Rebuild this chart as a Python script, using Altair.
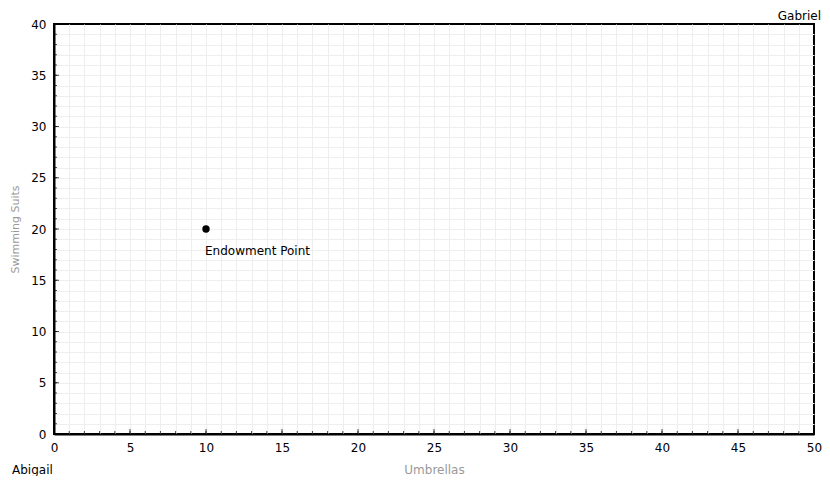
import altair as alt
import pandas as pd

# Data
x_grid = list(range(0, 51))
y_grid = list(range(0, 41))
x_major = list(range(0, 51, 5))
y_major = list(range(0, 41, 5))
point_x = [10]
point_y = [20]
point_label = ["Endowment Point"]
x_title = "Umbrellas"
y_title = "Swimming Suits"
corner_bottom_left = "Abigail"
corner_top_right = "Gabriel"

W, H = 760, 410
FONT = "DejaVu Sans"

xscale = alt.Scale(domain=[0, 50], nice=False, zero=False)
yscale = alt.Scale(domain=[0, 40], nice=False, zero=False)

label_expr = "datum.value % 5 == 0 ? datum.label : ''"

xaxis = alt.Axis(values=x_grid, grid=True, ticks=False, labelExpr=label_expr,
                 labelOverlap=False, labelFlush=False, labelPadding=8, titlePadding=11,
                 labelFont=FONT, labelFontSize=12, labelColor="#000",
                 titleFont=FONT, titleFontSize=12, titleColor="#999",
                 titleFontWeight="normal",
                 domainColor="#000", domainWidth=2,
                 gridColor="#eeeeee", gridWidth=1,
                 gridOpacity={"condition": {"test": "datum.value == 0 || datum.value == 50", "value": 0},
                              "value": 1})
yaxis = alt.Axis(values=y_grid, grid=True, ticks=False, labelExpr=label_expr,
                 labelOverlap=False, labelFlush=False, labelPadding=8, titlePadding=10,
                 labelFont=FONT, labelFontSize=12, labelColor="#000",
                 titleFont=FONT, titleFontSize=11, titleColor="#999",
                 titleFontWeight="normal",
                 domainColor="#000", domainWidth=2,
                 gridColor="#eeeeee", gridWidth=1,
                 gridOpacity={"condition": {"test": "datum.value == 0 || datum.value == 40", "value": 0},
                              "value": 1})


def X(field="x"):
    return alt.X(f"{field}:Q", scale=xscale, title=x_title, axis=xaxis)


def Y(field="y"):
    return alt.Y(f"{field}:Q", scale=yscale, title=y_title, axis=yaxis)


pts = pd.DataFrame({"x": point_x, "y": point_y, "label": point_label})

xminor = pd.DataFrame({"x": x_grid})
xmaj = pd.DataFrame({"x": x_major})
yminor = pd.DataFrame({"y": y_grid})
ymaj = pd.DataFrame({"y": y_major})

xt_minor = alt.Chart(xminor).mark_tick(orient="vertical", size=3, thickness=1, color="#000").encode(
    x=X(), y=alt.value(H - 1.5))
xt_major = alt.Chart(xmaj).mark_tick(orient="vertical", size=5, thickness=1, color="#000").encode(
    x=X(), y=alt.value(H - 2.5))
yt_minor = alt.Chart(yminor).mark_tick(orient="horizontal", size=3, thickness=1, color="#000").encode(
    y=Y(), x=alt.value(1.5))
yt_major = alt.Chart(ymaj).mark_tick(orient="horizontal", size=5, thickness=1, color="#000").encode(
    y=Y(), x=alt.value(2.5))

dot = alt.Chart(pts).mark_circle(size=55, color="#000", opacity=1).encode(x=X(), y=Y())
dot_label = alt.Chart(pts).mark_text(align="left", baseline="middle", dx=-1, dy=22,
                                     font=FONT, fontSize=12, color="#000").encode(
    x=X(), y=Y(), text="label:N")

corners = pd.DataFrame({"t": [corner_bottom_left]})
corner_bl = alt.Chart(corners).mark_text(align="left", baseline="alphabetic", font=FONT,
                                         fontSize=12, color="#000").encode(
    x=alt.value(-42), y=alt.value(450), text="t:N")
corners2 = pd.DataFrame({"t": [corner_top_right]})
corner_tr = alt.Chart(corners2).mark_text(align="right", baseline="alphabetic", font=FONT,
                                          fontSize=12, color="#000").encode(
    x=alt.value(767), y=alt.value(-4), text="t:N")

chart = alt.layer(xt_minor, xt_major, yt_minor, yt_major, dot, dot_label,
                  corner_bl, corner_tr).properties(
    width=W, height=H,
    autosize=alt.AutoSizeParams(type="none"),
    padding={"left": 46, "top": 16, "right": 8, "bottom": 42},
).configure(background="white").configure_view(stroke="#000", strokeWidth=2)

chart.save("out.html", embed_options={"renderer": "svg", "actions": False})
